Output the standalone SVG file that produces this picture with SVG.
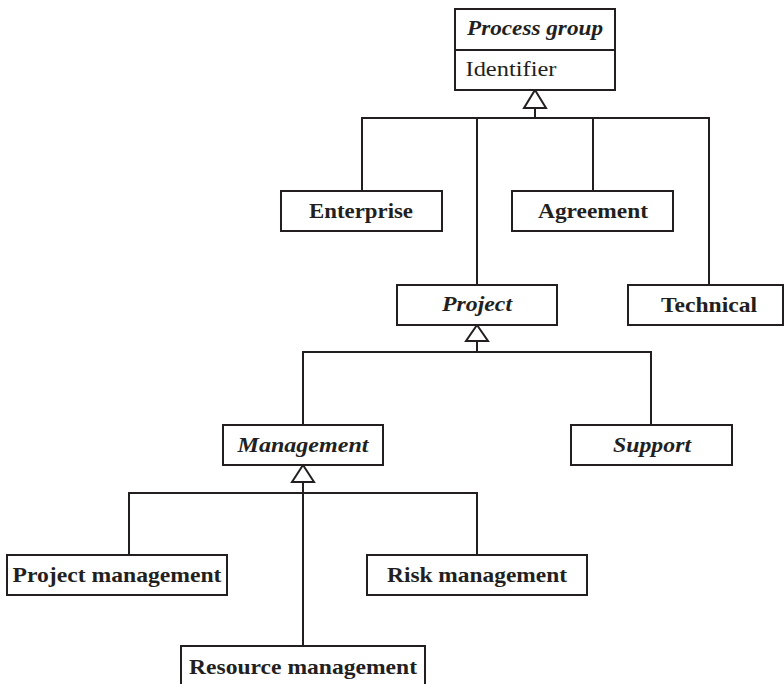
<svg xmlns="http://www.w3.org/2000/svg" width="784" height="684" viewBox="0 0 784 684">
<style>
.box{fill:#fff;stroke:#231f20;stroke-width:2}
.ln{fill:none;stroke:#231f20;stroke-width:2}
.tri{fill:#fff;stroke:#231f20;stroke-width:2;stroke-linejoin:miter}
text{font-family:"Liberation Serif","Times New Roman",serif;font-size:22px;fill:#231f20;text-anchor:middle}
.b{font-weight:bold}
.i{font-weight:bold;font-style:italic}
</style>
<rect width="784" height="684" fill="#fff"/>
<g id="connectors">
<path class="ln" d="M362 191V118H709V285M477 118V285M593 118V191M535 118V108"/>
<polygon class="tri" points="535,90 546,108 524,108"/>
<path class="ln" d="M303 425V352H651V425M477 352V341"/>
<polygon class="tri" points="477,325 488,341 466,341"/>
<path class="ln" d="M129 555V493H477V555M303 482V646"/>
<polygon class="tri" points="303,465 314,482 292,482"/>
</g>
<g id="process-group">
<rect class="box" x="455" y="9" width="160" height="81"/>
<line class="ln" x1="455" y1="50" x2="615" y2="50"/>
<text class="i" x="535" y="35" textLength="136" lengthAdjust="spacingAndGlyphs">Process group</text>
<text x="511" y="76" textLength="91" lengthAdjust="spacingAndGlyphs">Identifier</text>
</g>
<g id="enterprise">
<rect class="box" x="281" y="191" width="161" height="40"/>
<text class="b" x="361" y="218" textLength="104" lengthAdjust="spacingAndGlyphs">Enterprise</text>
</g>
<g id="agreement">
<rect class="box" x="512" y="191" width="161" height="40"/>
<text class="b" x="593" y="218" textLength="110" lengthAdjust="spacingAndGlyphs">Agreement</text>
</g>
<g id="project">
<rect class="box" x="397" y="285" width="160" height="40"/>
<text class="i" x="477" y="311" textLength="70" lengthAdjust="spacingAndGlyphs">Project</text>
</g>
<g id="technical">
<rect class="box" x="628" y="285" width="155" height="40"/>
<text class="b" x="709" y="312" textLength="96" lengthAdjust="spacingAndGlyphs">Technical</text>
</g>
<g id="management">
<rect class="box" x="223" y="425" width="160" height="40"/>
<text class="i" x="303" y="452" textLength="131" lengthAdjust="spacingAndGlyphs">Management</text>
</g>
<g id="support">
<rect class="box" x="571" y="425" width="161" height="40"/>
<text class="i" x="652" y="452" textLength="78" lengthAdjust="spacingAndGlyphs">Support</text>
</g>
<g id="project-management">
<rect class="box" x="7" y="555" width="220" height="40"/>
<text class="b" x="117" y="582" textLength="209" lengthAdjust="spacingAndGlyphs">Project management</text>
</g>
<g id="risk-management">
<rect class="box" x="367" y="555" width="220" height="40"/>
<text class="b" x="477" y="582" textLength="180" lengthAdjust="spacingAndGlyphs">Risk management</text>
</g>
<g id="resource-management">
<rect class="box" x="181" y="646" width="244" height="45"/>
<text class="b" x="303" y="674" textLength="228" lengthAdjust="spacingAndGlyphs">Resource management</text>
</g>
</svg>
